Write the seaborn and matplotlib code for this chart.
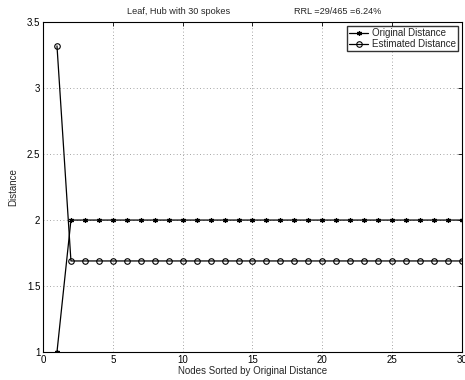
import matplotlib
matplotlib.use("Agg")
import matplotlib.pyplot as plt
import seaborn as sns
import pandas as pd

nodes = list(range(1, 31))
original = [1.0] + [2.0] * 29
estimated = [3.32] + [1.69] * 29
title_left = "Leaf, Hub with 30 spokes"
title_right = "RRL =29/465 =6.24%"
xticks = [0, 5, 10, 15, 20, 25, 30]
yticks = [1, 1.5, 2, 2.5, 3, 3.5]

sns.set_style("white")
plt.rcParams['font.family'] = ['Liberation Sans', 'DejaVu Sans']

df = pd.DataFrame({
    "node": nodes * 2,
    "value": original + estimated,
    "series": ["Original Distance"] * 30 + ["Estimated Distance"] * 30,
})

fig = plt.figure(figsize=(4.65, 3.8), dpi=100)
ax = fig.add_axes([0.0925, 0.0737, 0.901, 0.868])

sns.lineplot(data=df[df.series == "Original Distance"], x="node", y="value",
             ax=ax, color="black", lw=0.9, marker=(6, 2, 0), markersize=3.5,
             markeredgewidth=0.9, markeredgecolor="black",
             label="Original Distance")
sns.lineplot(data=df[df.series == "Estimated Distance"], x="node", y="value",
             ax=ax, color="black", lw=0.9, marker="o", markersize=4,
             markerfacecolor="none", markeredgecolor="black",
             markeredgewidth=0.8, label="Estimated Distance")

ax.set_xlim(0, 30)
ax.set_ylim(1, 3.5)
ax.set_xticks(xticks)
ax.set_yticks(yticks)
ax.set_yticklabels([f"{t:g}" for t in yticks])
ax.grid(True, color="#888888", linestyle=(0, (1, 3)), lw=0.6)
ax.tick_params(direction="in", length=3, width=0.6, top=True, right=True,
               labelsize=7, pad=2, colors="black")
for s in ax.spines.values():
    s.set_color("black")
    s.set_linewidth(0.8)
ax.set_xlabel("Nodes Sorted by Original Distance", fontsize=7, labelpad=1)
ax.set_ylabel("Distance", fontsize=7, labelpad=6)

fig.text(179 / 465, 1 - 12 / 380, title_left, fontsize=6.6, ha="center", va="center")
fig.text(338 / 465, 1 - 12 / 380, title_right, fontsize=6.6, ha="center", va="center")

leg = ax.legend(loc="upper right", fontsize=7, frameon=True, fancybox=False,
                borderpad=0.2, labelspacing=0.1, handlelength=2.0,
                handletextpad=0.4, borderaxespad=0.4)
leg.get_frame().set_edgecolor("black")
leg.get_frame().set_linewidth(1.0)

fig.savefig("out.png", dpi=100)
